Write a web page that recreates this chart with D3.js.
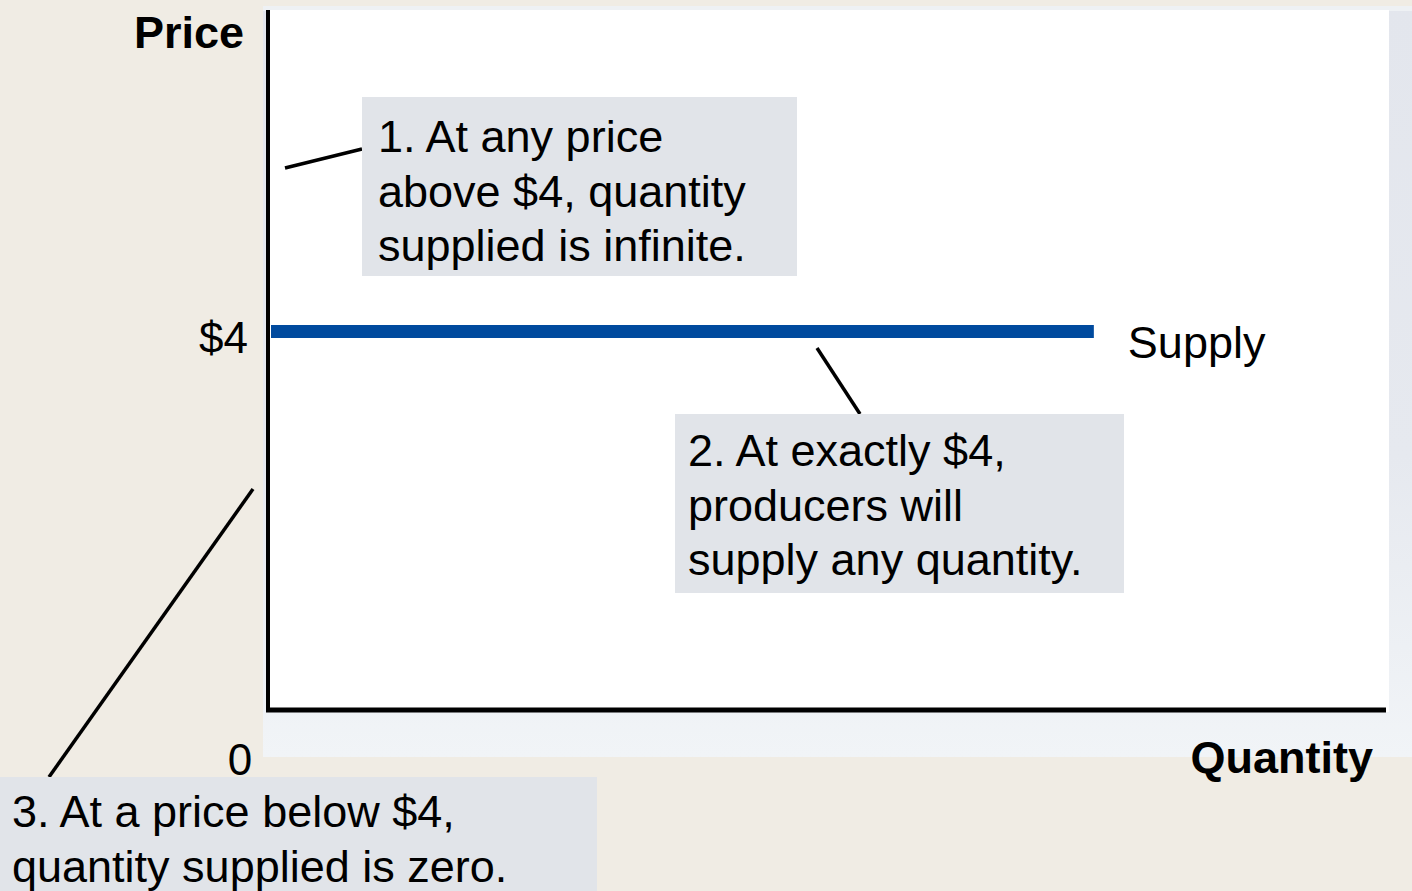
<!DOCTYPE html>
<html>
<head>
<meta charset="utf-8">
<script src="https://cdn.jsdelivr.net/npm/d3@7"></script>
<style>
  html, body { margin: 0; padding: 0; background: #f0ece4; }
  svg { display: block; }
  text { font-family: "Liberation Sans", Arial, sans-serif; fill: #000; }
</style>
</head>
<body>
<div id="chart"></div>
<script>
// perfectly elastic supply
var supplyPrice = [4, 4];
var supplyQuantity = [0, 73.6];
var priceTicks = [4];
var priceTickLabels = ["$4"];
var originLabel = "0";
var notes = [
  ["1. At any price", "above $4, quantity", "supplied is infinite."],
  ["2. At exactly $4,", "producers will", "supply any quantity."],
  ["3. At a price below $4,", "quantity supplied is zero."]
];

var width = 1412,
    height = 891;

var svg = d3.select("#chart")
    .append("svg")
    .attr("width", width)
    .attr("height", height);

var defs = svg.append("defs");
var grad = defs.append("linearGradient")
    .attr("id", "shade")
    .attr("x1", 0).attr("y1", 0).attr("x2", 0).attr("y2", 1);
grad.append("stop").attr("offset", "0%").attr("stop-color", "#e3e6ed");
grad.append("stop").attr("offset", "60%").attr("stop-color", "#e6e9ef");
grad.append("stop").attr("offset", "100%").attr("stop-color", "#f1f4f7");

// panel with soft shadow
svg.append("rect")
    .attr("x", 263).attr("y", 6)
    .attr("width", width - 263).attr("height", 751)
    .attr("fill", "url(#shade)");
svg.append("rect")
    .attr("x", 263).attr("y", 6)
    .attr("width", width - 263).attr("height", 5)
    .attr("fill", "#eef1f4");
svg.append("rect")
    .attr("x", 266).attr("y", 10)
    .attr("width", 1389 - 266).attr("height", 702)
    .attr("fill", "#fff");

var xScale = d3.scaleLinear()
    .domain([0, 100])
    .range([268, 1386]);

var yScale = d3.scaleLinear()
    .domain([0, 7.4])
    .range([710, 10]);

// supply line
var line = d3.line()
    .x(function(d, i){ return xScale(supplyQuantity[i]) + 3 })
    .y(function(d){ return yScale(d) });

svg.append("path")
    .attr("d", line(supplyPrice))
    .attr("stroke", "#004a9e")
    .attr("stroke-width", 13)
    .attr("fill", "none");

svg.append("text")
    .attr("x", xScale(supplyQuantity[1]) + 37)
    .attr("y", yScale(4) + 26)
    .attr("font-size", 45)
    .text("Supply");

// axes
var yAxis = d3.axisLeft(yScale)
    .tickValues(priceTicks)
    .tickSize(0)
    .tickPadding(20)
    .tickFormat(function(d, i){ return priceTickLabels[i] });

var xAxis = d3.axisBottom(xScale).ticks(0).tickSize(0);

var gy = svg.append("g")
    .attr("class", "yAxis")
    .attr("transform", "translate(268,0)")
    .call(yAxis);
gy.select(".domain")
    .attr("d", "M0," + yScale(7.4) + "V" + (yScale(0) + 2))
    .attr("stroke", "#000").attr("stroke-width", 4);
gy.selectAll(".tick text")
    .attr("font-family", "Liberation Sans, Arial, sans-serif")
    .attr("font-size", 44)
    .attr("fill", "#000")
    .attr("dy", "0.48em");

var gx = svg.append("g")
    .attr("class", "xAxis")
    .attr("transform", "translate(0," + yScale(0) + ")")
    .call(xAxis);
gx.select(".domain")
    .attr("d", "M" + (xScale(0) - 2) + ",0H" + xScale(100))
    .attr("stroke", "#000").attr("stroke-width", 5);

svg.append("text")
    .attr("x", 240).attr("y", 775)
    .attr("text-anchor", "middle")
    .attr("font-size", 44)
    .text(originLabel);

svg.append("text")
    .attr("x", 244).attr("y", 48)
    .attr("text-anchor", "end")
    .attr("font-size", 45)
    .attr("font-weight", "bold")
    .text("Price");

svg.append("text")
    .attr("x", 1373).attr("y", 773)
    .attr("text-anchor", "end")
    .attr("font-size", 45)
    .attr("font-weight", "bold")
    .text("Quantity");

// annotations
var boxes = [
  { x: 362, y: 97, w: 435, h: 179, tx: 378, ty: 152, lead: [[285, 168], [362, 149]] },
  { x: 675, y: 414, w: 449, h: 179, tx: 688, ty: 466, lead: [[817, 348], [860, 414]] },
  { x: 0, y: 777, w: 597, h: 114, tx: 12, ty: 827, lead: [[253, 489], [49, 777]] }
];

boxes.forEach(function(b, i){
  svg.append("line")
      .attr("x1", b.lead[0][0]).attr("y1", b.lead[0][1])
      .attr("x2", b.lead[1][0]).attr("y2", b.lead[1][1])
      .attr("stroke", "#000").attr("stroke-width", 3.5);
  svg.append("rect")
      .attr("x", b.x).attr("y", b.y)
      .attr("width", b.w).attr("height", b.h)
      .attr("fill", "#e1e4e9");
  var t = svg.append("text")
      .attr("font-size", 45);
  notes[i].forEach(function(s, j){
    t.append("tspan")
        .attr("x", b.tx)
        .attr("y", b.ty + j * 54.5)
        .text(s);
  });
});
</script>
</body>
</html>
